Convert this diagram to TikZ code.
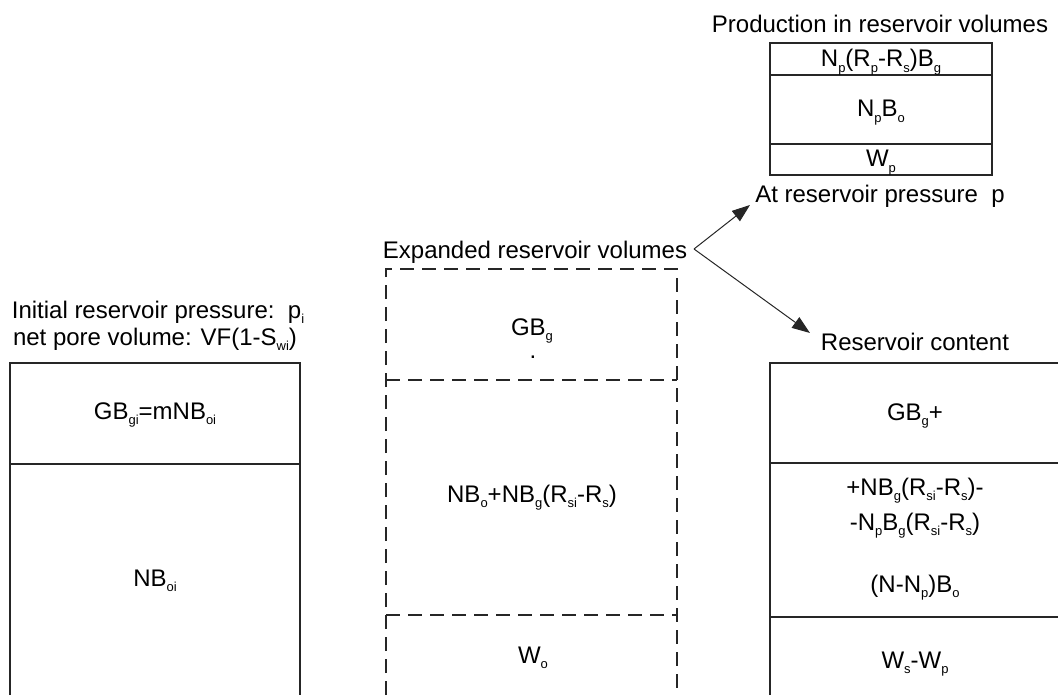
\documentclass[tikz,border=0pt]{standalone}
\usepackage{fontspec}
\setmainfont{Liberation Sans}
\usetikzlibrary{arrows.meta}
\newcommand{\lo}[1]{\raisebox{-0.45ex}{\fontsize{6.5}{7}\selectfont #1}}
\begin{document}
\begin{tikzpicture}[
  x=0.5pt,y=-0.5pt,
  font=\fontsize{12}{14}\selectfont,
  wall/.style={draw=black!85,line width=0.9pt},
  dashwall/.style={wall,dash pattern=on 7pt off 4pt},
  txt/.style={inner sep=0pt,anchor=base,align=center},
  link/.style={draw=black!85,line width=0.5pt,->},
  >={Triangle[length=9pt,width=6.5pt]}
]
\useasboundingbox (0,0) rectangle (1058,695);

\draw[wall] (770,43) rectangle (992,175);
\draw[wall] (770,75) -- (992,75);
\draw[wall] (770,144) -- (992,144);
\node[txt] (prodtitle) at (880,33) {Production in reservoir volumes};
\node[txt] (prodgas) at (881,67) {N\lo{p}(R\lo{p}-R\lo{s})B\lo{g}};
\node[txt] (prodoil) at (881,117) {N\lo{p}B\lo{o}};
\node[txt] (prodwat) at (881,167) {W\lo{p}};
\node[txt] (atp) at (880,202) {At reservoir pressure\ \ p};

\draw[wall] (10,695) -- (10,363) -- (300,363) -- (300,695);
\draw[wall] (10,464) -- (300,464);
\node[txt] (initp) at (158,318) {Initial reservoir pressure:\ \ p\lo{i}};
\node[txt] (porevol) at (155,345) {net pore volume: VF(1-S\lo{wi})};
\node[txt] (gascap) at (155,419) {GB\lo{gi}=mNB\lo{oi}};
\node[txt] (oilzone) at (155,586) {NB\lo{oi}};

\draw[dashwall] (386,695) -- (386,269) -- (677,269) -- (677,695);
\draw[dashwall] (386,380) -- (677,380);
\draw[dashwall] (386,615) -- (677,615);
\node[txt] (exptitle) at (535,258) {Expanded reservoir volumes};
\node[txt] (expgas) at (532,335) {GB\lo{g}};
\node[txt] (expdot) at (533,358) {.};
\node[txt] (expoil) at (532,502) {NB\lo{o}+NB\lo{g}(R\lo{si}-R\lo{s})};
\node[txt] (expwat) at (533,663) {W\lo{o}};

\draw[wall] (770,695) -- (770,363) -- (1060,363);
\draw[wall] (770,463) -- (1060,463);
\draw[wall] (770,617) -- (1060,617);
\node[txt] (contitle) at (915,350) {Reservoir content};
\node[txt] (congas) at (915,420) {GB\lo{g}+};
\node[txt,font=\fontsize{12}{17.5}\selectfont] (consol) at (915,530)
  {+NB\lo{g}(R\lo{si}-R\lo{s})-\\-N\lo{p}B\lo{g}(R\lo{si}-R\lo{s})};
\node[txt] (conoil) at (915,592) {(N-N\lo{p})B\lo{o}};
\node[txt] (conwat) at (915,668) {W\lo{s}-W\lo{p}};

\coordinate (fork) at (694,249);
\coordinate (tipup) at (750,205);
\coordinate (tipdown) at (810,333);
\draw[link] (fork) -- (tipup);
\draw[link] (fork) -- (tipdown);
\end{tikzpicture}
\end{document}
